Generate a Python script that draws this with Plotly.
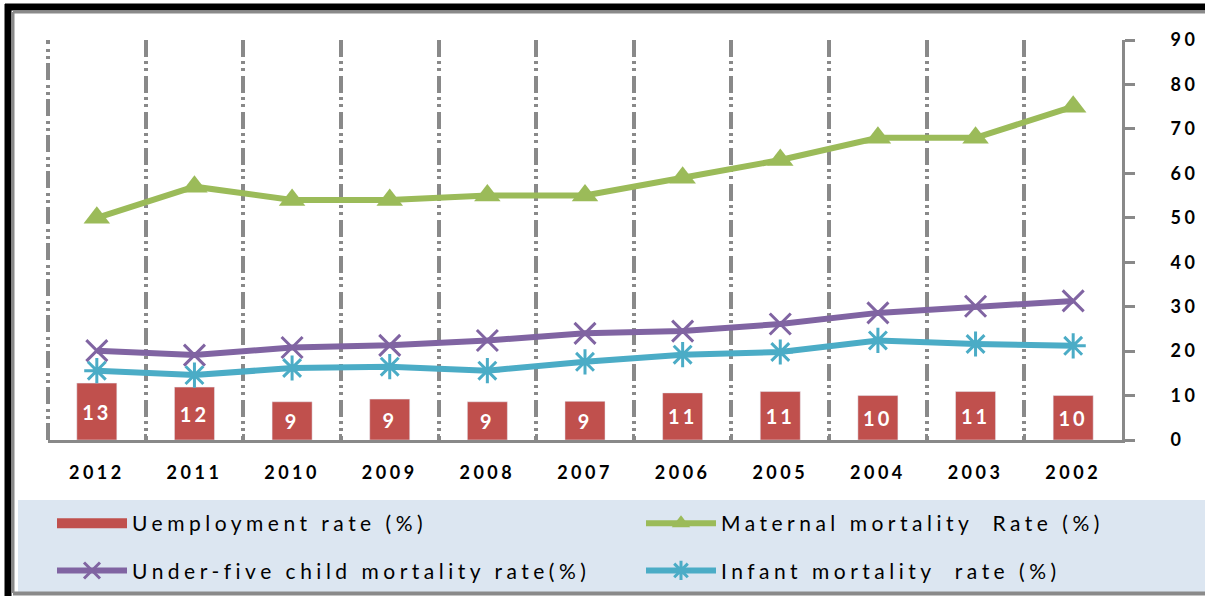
import plotly.graph_objects as go

years = ["2012", "2011", "2010", "2009", "2008", "2007", "2006", "2005", "2004", "2003", "2002"]
unemployment = [12.8, 11.9, 8.6, 9.2, 8.6, 8.7, 10.6, 10.9, 10.0, 10.9, 10.0]
maternal = [50, 57, 54, 54, 55, 55, 59, 63, 68, 68, 75]
under_five = [20.1, 19.1, 20.8, 21.3, 22.4, 24.0, 24.5, 26.1, 28.6, 30.1, 31.3]
infant = [15.6, 14.6, 16.2, 16.5, 15.6, 17.6, 19.2, 19.8, 22.4, 21.6, 21.2]

RED = "#c0504d"
GREEN = "#9bbb59"
PURPLE = "#8064a2"
BLUE = "#4bacc6"
GRID = "#898989"
GRID_DASH = "17px,4px,3px,4px,3px,5px"

W, H = 1205, 596
L, R, T, B = 48, 83, 40, 156
PW, PH = W - L - R, H - T - B


def px(x):
    return (x - L) / PW


def py(y):
    return (H - B - y) / PH


fig = go.Figure()

fig.add_trace(go.Bar(
    x=years, y=unemployment, marker_color=RED, showlegend=False,
    text=unemployment, texttemplate="%{y:.0f}", textposition="inside",
    insidetextanchor="middle", constraintext="none",
    textfont=dict(family="Lato", size=20, color="white", weight="bold"),
    hoverinfo="skip",
))

# legend swatch for the bar series
fig.add_trace(go.Scatter(
    x=[None], y=[None], mode="lines", name="Uemployment rate (%)",
    line=dict(color=RED, width=16), legend="legend", legendgroup="a",
))
fig.add_trace(go.Scatter(
    x=years, y=maternal, mode="lines+markers", name="Maternal mortality  Rate (%)",
    line=dict(color=GREEN, width=6),
    marker=dict(symbol="triangle-up", size=23, color=GREEN),
    legend="legend2", legendgroup="b",
))
fig.add_trace(go.Scatter(
    x=years, y=under_five, mode="lines+markers", name="Under-five child mortality rate(%)",
    line=dict(color=PURPLE, width=6),
    marker=dict(symbol="x-thin", size=21, line=dict(color=PURPLE, width=3)),
    legend="legend", legendgroup="c",
))
fig.add_trace(go.Scatter(
    x=years, y=infant, mode="lines+markers", name="Infant mortality  rate (%)",
    line=dict(color=BLUE, width=6),
    marker=dict(symbol="asterisk", size=21, line=dict(color=BLUE, width=3)),
    legend="legend2", legendgroup="d",
))

shapes = [
    # legend band
    dict(type="rect", xref="paper", yref="paper", x0=px(18), x1=px(W + 5), y0=py(592), y1=py(500),
         fillcolor="#dce6f1", line=dict(width=0), layer="below"),
    # left boundary gridline of the first category
    dict(type="line", xref="paper", yref="paper", x0=0, x1=0, y0=0, y1=1,
         line=dict(color=GRID, width=4, dash=GRID_DASH), layer="above"),
    # frame
    dict(type="line", xref="paper", yref="paper", x0=px(5), x1=px(W + 5), y0=py(7), y1=py(7),
         line=dict(color="black", width=7)),
    dict(type="line", xref="paper", yref="paper", x0=px(8), x1=px(8), y0=py(4), y1=py(H + 5),
         line=dict(color="black", width=7)),
    dict(type="line", xref="paper", yref="paper", x0=px(13), x1=px(W + 5), y0=py(12), y1=py(12),
         line=dict(color="#8a8a8a", width=3)),
    dict(type="line", xref="paper", yref="paper", x0=px(13), x1=px(13), y0=py(12), y1=py(593),
         line=dict(color="#8a8a8a", width=3)),
    dict(type="line", xref="paper", yref="paper", x0=px(13), x1=px(W + 5), y0=py(593.5), y1=py(593.5),
         line=dict(color="#8a8a8a", width=4)),
]

legend_style = dict(
    orientation="v", xanchor="left", yanchor="top",
    bgcolor="rgba(0,0,0,0)", itemwidth=70, tracegroupgap=17, itemclick=False,
    font=dict(family="Lato", size=21, color="black"),
)

fig.update_layout(
    width=W, height=H,
    margin=dict(l=L, r=R, t=T, b=B, autoexpand=False),
    paper_bgcolor="white", plot_bgcolor="white",
    bargap=0.59,
    shapes=shapes,
    showlegend=True,
    legend=dict(x=px(52), y=py(503), **legend_style),
    legend2=dict(x=px(641), y=py(503), **legend_style),
    xaxis=dict(
        type="category", categoryorder="array", categoryarray=years,
        range=[-0.5, len(years) - 0.5],
        tickson="boundaries", showgrid=True, gridcolor=GRID, gridwidth=4,
        griddash=GRID_DASH,
        showline=True, linecolor=GRID, linewidth=3,
        ticks="inside", ticklen=6, tickwidth=3, tickcolor=GRID,
        tickfont=dict(family="Lato", size=18, color="black", weight="bold"),
        ticklabelstandoff=14,
    ),
    yaxis=dict(
        side="right", range=[0, 90], dtick=10, showgrid=False, zeroline=False,
        showline=True, linecolor=GRID, linewidth=3,
        ticks="outside", ticklen=10, tickwidth=3, tickcolor=GRID,
        tickfont=dict(family="Lato", size=18, color="black", weight="bold"),
        ticklabelstandoff=32,
    ),
)

# widen letter spacing of texts, and let the wider legend texts show in full
spacing_js = """
var gd = document.getElementById('{plot_id}');
function setSpacing(sel, val) {
  document.querySelectorAll(sel).forEach(function (t) {
    if (t.style.letterSpacing !== val) t.style.letterSpacing = val;
  });
}
function spaceText() {
  setSpacing('.legendtext, g[class^="legend"] text', '4.5px');
  document.querySelectorAll('g[class^="legend"], .scrollbox').forEach(function (g) {
    if (g.hasAttribute('clip-path')) g.removeAttribute('clip-path');
  });
  setSpacing('.xtick text, .ytick text', '3.5px');
  setSpacing('.bartext', '3px');
}
spaceText();
gd.on('plotly_afterplot', spaceText);
new MutationObserver(spaceText).observe(document.body,
  {childList: true, subtree: true, attributes: true, characterData: true});
[50, 200, 500, 1000, 2000].forEach(function (ms) { setTimeout(spaceText, ms); });
"""

fig.write_html("out.html", post_script=spacing_js)
